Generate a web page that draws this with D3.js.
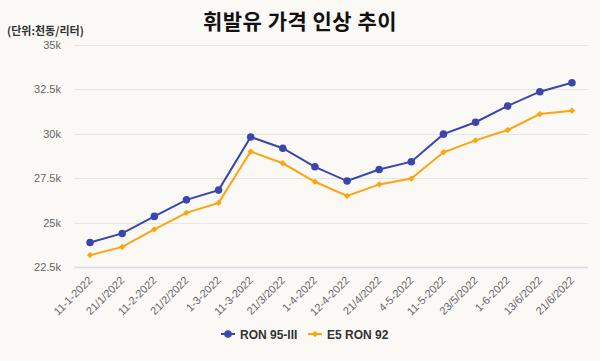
<!DOCTYPE html>
<html>
<head>
<meta charset="utf-8">
<script src="https://cdn.jsdelivr.net/npm/d3@7"></script>
<style>
  body { margin: 0; background: #faf9f6; }
  svg { display: block; font-family: "Liberation Sans", Arial, sans-serif; }
</style>
</head>
<body>
<div id="chart"></div>
<script>
var dates = ["11-1-2022", "21/1/2022", "11-2-2022", "21/2/2022", "1-3-2022", "11-3-2022",
  "21/3/2022", "1-4-2022", "12-4-2022", "21/4/2022", "4-5-2022", "11-5-2022",
  "23/5/2022", "1-6-2022", "13/6/2022", "21/6/2022"];
var ron95 = [23880, 24390, 25350, 26280, 26830, 29820, 29190, 28140, 27340, 27990,
  28430, 29980, 30650, 31570, 32370, 32870];
var e5ron92 = [23170, 23630, 24620, 25550, 26110, 29000, 28340, 27300, 26500, 27150,
  27480, 28960, 29630, 30210, 31110, 31300];
var yTicks = [22500, 25000, 27500, 30000, 32500, 35000];

var width = 600, height = 361;
var margin = {top: 45, right: 12, bottom: 94, left: 74};

var series = [
  {name: "RON 95-III", values: ron95, color: "#3a46ae", symbol: "circle"},
  {name: "E5 RON 92", values: e5ron92, color: "#ffa30f", symbol: "diamond"}
];

var svg = d3.select("#chart").append("svg")
    .attr("width", width)
    .attr("height", height);

svg.append("rect").attr("width", width).attr("height", height).attr("fill", "#faf9f6");

var x = d3.scaleBand()
    .domain(dates)
    .range([margin.left, width - margin.right]);

var y = d3.scaleLinear()
    .domain([22500, 35000])
    .range([height - margin.bottom, margin.top]);

// gridlines
svg.append("g")
  .selectAll("line")
  .data(yTicks)
  .enter().append("line")
    .attr("x1", margin.left)
    .attr("x2", width - margin.right)
    .attr("y1", function(d) { return Math.round(y(d)) + 0.5; })
    .attr("y2", function(d) { return Math.round(y(d)) + 0.5; })
    .attr("stroke", function(d) { return d === 22500 ? "#d5dcec" : "#e6e6e6"; })
    .attr("stroke-width", function(d) { return d === 22500 ? 1.5 : 1; });

// y labels
svg.append("g")
  .selectAll("text")
  .data(yTicks)
  .enter().append("text")
    .attr("x", 61)
    .attr("y", function(d) { return y(d) + 4; })
    .attr("text-anchor", "end")
    .attr("font-size", 11)
    .attr("fill", "#666")
    .text(function(d) { return d3.format(".3~s")(d); });

// x labels
svg.append("g")
  .selectAll("text")
  .data(dates)
  .enter().append("text")
    .attr("transform", function(d) {
      return "translate(" + (x(d) + x.bandwidth() / 2 + 3) + "," + (height - margin.bottom + 14) + ") rotate(-45)";
    })
    .attr("text-anchor", "end")
    .attr("font-size", 11)
    .attr("fill", "#666")
    .text(function(d) { return d; });

var line = d3.line()
    .x(function(d, i) { return x(dates[i]) + x.bandwidth() / 2; })
    .y(function(d) { return y(d); });

var symCircle = d3.symbol().type(d3.symbolCircle).size(45);
var symDiamond = d3.symbol().type(d3.symbolSquare).size(20);

function markerTransform(s) {
  return s.symbol === "circle" ? "" : " rotate(45)";
}

series.forEach(function(s) {
  var g = svg.append("g");
  g.append("path")
    .datum(s.values)
    .attr("d", line)
    .attr("fill", "none")
    .attr("stroke", s.color)
    .attr("stroke-width", 2);
  g.selectAll("path.pt")
    .data(s.values)
    .enter().append("path")
      .attr("class", "pt")
      .attr("transform", function(d, i) {
        return "translate(" + (x(dates[i]) + x.bandwidth() / 2) + "," + y(d) + ")" + markerTransform(s);
      })
      .attr("d", s.symbol === "circle" ? symCircle : symDiamond)
      .attr("fill", s.color);
});

// title
svg.append("text")
  .attr("x", 300)
  .attr("y", 29)
  .attr("text-anchor", "middle")
  .attr("font-family", "'Noto Sans CJK KR', sans-serif")
  .attr("font-weight", "bold")
  .attr("font-size", 21)
  .attr("letter-spacing", 0.5)
  .attr("fill", "#111")
  .text("휘발유 가격 인상 추이");

svg.append("text")
  .attr("x", 7)
  .attr("y", 35)
  .attr("font-family", "'Noto Sans CJK KR', sans-serif")
  .attr("font-weight", "bold")
  .attr("font-size", 11)
  .attr("fill", "#333")
  .text("(단위:천동/리터)");

// legend
var legend = svg.append("g");
var legendX = [221, 308];
series.forEach(function(s, i) {
  var lg = legend.append("g").attr("transform", "translate(" + legendX[i] + ",334)");
  lg.append("line").attr("x1", 0).attr("x2", 14).attr("stroke", s.color).attr("stroke-width", 2);
  lg.append("path")
    .attr("transform", "translate(7,0)" + markerTransform(s))
    .attr("d", s.symbol === "circle" ? symCircle : symDiamond)
    .attr("fill", s.color);
  lg.append("text")
    .attr("x", 19)
    .attr("y", 4.5)
    .attr("font-size", 12)
    .attr("font-weight", "bold")
    .attr("fill", "#333")
    .text(s.name);
});
</script>
</body>
</html>
